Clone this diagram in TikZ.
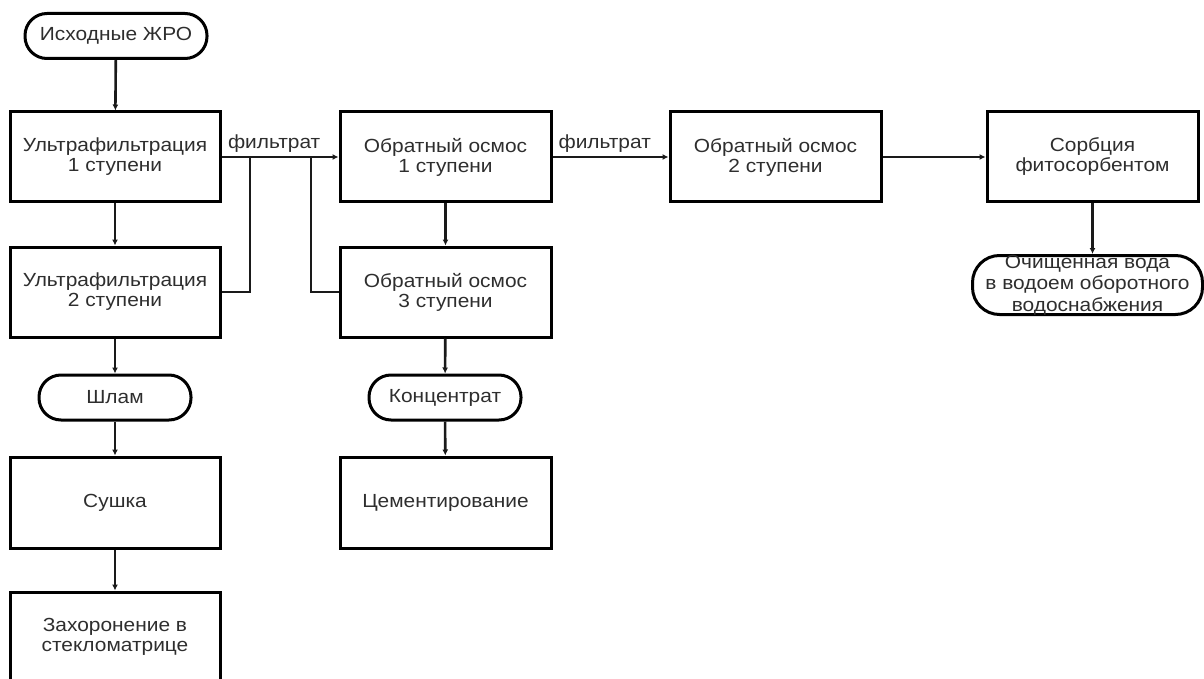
\documentclass[tikz,border=0pt]{standalone}
\usepackage{fontspec}
\setmainfont{Liberation Sans}[FakeStretch=1.1]
\usetikzlibrary{arrows.meta}
\definecolor{txt}{HTML}{2E2E2E}
\definecolor{ln}{HTML}{1A1A1A}
\begin{document}
\begin{tikzpicture}[x=1pt,y=-1pt,
  every node/.style={font=\fontsize{19}{20}\selectfont, text=txt, align=center, inner sep=0pt},
  box/.style={draw=black, line width=3pt, minimum width=210pt, minimum height=90pt},
  term/.style={draw=black, line width=3pt, rounded corners=22pt, minimum height=45pt},
  conn/.style={draw=ln, line width=2.6pt},
  arr/.style={conn, -{Latex[length=6pt,width=6pt]}}
]
\useasboundingbox (0,0) rectangle (1204,679);
\clip (0,0) rectangle (1204,679);
% left column
\node[term, minimum width=182pt] (src) at (116,36) {Исходные ЖРО};
\node[box] (uf1) at (115,157) {Ультрафильтрация\\1 ступени};
\node[box] (uf2) at (115,292) {Ультрафильтрация\\2 ступени};
\node[term, minimum width=152pt] (slam) at (115,397.5) {Шлам};
\node[box, minimum height=91pt] (dry) at (115,502.5) {Сушка};
\node[box] (bury) at (115,637) {Захоронение в\\стекломатрице};
% middle column
\node[box, minimum width=211pt] (oo1) at (445.5,157) {Обратный осмос\\1 ступени};
\node[box, minimum width=211pt] (oo3) at (445.5,292) {Обратный осмос\\3 ступени};
\node[term, minimum width=152pt] (conc) at (445,397.5) {Концентрат};
\node[box, minimum width=211pt, minimum height=91pt] (cem) at (445.5,502.5) {Цементирование};
% right
\node[box, minimum width=211pt] (oo2) at (775.5,157) {Обратный осмос\\2 ступени};
\node[box, minimum width=211pt] (sorb) at (1092.5,157) {Сорбция\\фитосорбентом};
\node[term, minimum width=230pt, minimum height=59pt, rounded corners=27pt] (water) at (1087.5,285) {};
\node[font=\fontsize{19}{21.5}\selectfont] (watertxt) at (1087.5,285) {Очищенная вода\\в водоем оборотного\\водоснабжения};
% junctions
\coordinate (j1) at (250,157);
\coordinate (j2) at (311,157);
% connectors
\draw[arr] (src) -- (uf1);
\draw[arr] (uf1) -- (uf2);
\draw[arr] (uf2) -- (slam);
\draw[arr] (slam) -- (dry);
\draw[arr] (dry) -- (bury);
\draw[arr] (uf1.east) -- node[above=3pt, pos=0.45] (f1) {фильтрат} (oo1.west);
\draw[conn] (uf2.east) -| (j1);
\draw[conn] (oo3.west) -| (j2);
\draw[arr] (oo1) -- (oo3);
\draw[arr] (oo3) -- (conc);
\draw[arr] (conc) -- (cem);
\draw[arr] (oo1.east) -- node[above=3pt, pos=0.45] (f2) {фильтрат} (oo2.west);
\draw[arr] (oo2.east) -- (sorb.west);
\draw[arr] (sorb.south) -- (sorb.south |- water.north);
\end{tikzpicture}
\end{document}
